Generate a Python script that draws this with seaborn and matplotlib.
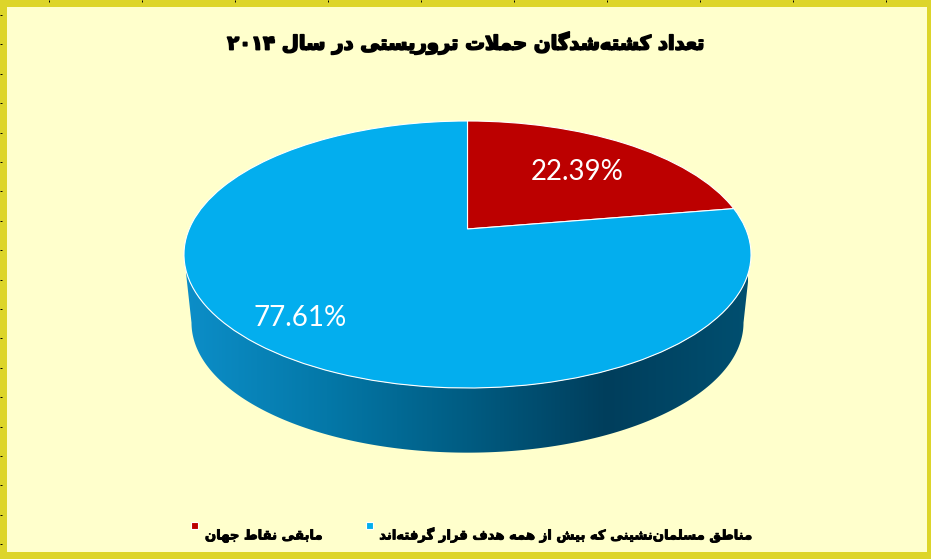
import re

import numpy as np
import seaborn as sns
import matplotlib
matplotlib.use("Agg")
import matplotlib.pyplot as plt
import matplotlib.patheffects as pe
from matplotlib.legend_handler import HandlerPatch
from matplotlib.patches import PathPatch, Rectangle
from matplotlib.path import Path
from matplotlib.transforms import Transform

# data
categories = ["مابقی نقاط جهان", "مناطق مسلمان\u200cنشینی که بیش از همه هدف قرار گرفته\u200cاند"]
values = [22.39, 77.61]
title = "تعداد کشته\u200cشدگان حملات تروریستی در سال ۲۰۱۴"
colors = ["#BC0000", "#03AEEE"]
wall_colors = ["#0C8EC8", "#0478A8", "#005C82", "#003E5C", "#004F70"]
tick_x = np.arange(49, 931, 93)
tick_y = np.arange(15, 559, 29.4)

# isolated, final, initial, medial
FORMS = {
    "ا": "\uFE8D\uFE8E", "د": "\uFEA9\uFEAA", "ر": "\uFEAD\uFEAE", "ز": "\uFEAF\uFEB0", "و": "\uFEED\uFEEE",
    "ب": "\uFE8F\uFE90\uFE91\uFE92", "ت": "\uFE95\uFE96\uFE97\uFE98", "ج": "\uFE9D\uFE9E\uFE9F\uFEA0",
    "ح": "\uFEA1\uFEA2\uFEA3\uFEA4", "س": "\uFEB1\uFEB2\uFEB3\uFEB4", "ش": "\uFEB5\uFEB6\uFEB7\uFEB8",
    "ط": "\uFEC1\uFEC2\uFEC3\uFEC4", "ع": "\uFEC9\uFECA\uFECB\uFECC", "ف": "\uFED1\uFED2\uFED3\uFED4",
    "ق": "\uFED5\uFED6\uFED7\uFED8", "ک": "\uFB8E\uFB8F\uFB90\uFB91", "گ": "\uFB92\uFB93\uFB94\uFB95",
    "ل": "\uFEDD\uFEDE\uFEDF\uFEE0", "م": "\uFEE1\uFEE2\uFEE3\uFEE4", "ن": "\uFEE5\uFEE6\uFEE7\uFEE8",
    "ه": "\uFEE9\uFEEA\uFEEB\uFEEC", "ی": "\uFBFC\uFBFD\uFBFE\uFBFF",
}


def shape(text):
    # matplotlib does no Arabic shaping, so pick the joined forms and reverse
    text = text.replace("لا", "\uFEFB")
    out = []
    for i, ch in enumerate(text):
        if ch == "\uFEFB" or ch in FORMS:
            prev = text[i - 1] if i else " "
            nxt = text[i + 1] if i + 1 < len(text) else " "
            joins_prev = prev in FORMS and len(FORMS[prev]) == 4
            joins_next = ch != "\uFEFB" and len(FORMS[ch]) == 4 and (nxt in FORMS or nxt == "\uFEFB")
            if ch == "\uFEFB":
                out.append("\uFEFC" if joins_prev else "\uFEFB")
            else:
                f = FORMS[ch]
                if joins_prev and joins_next:
                    out.append(f[3])
                elif joins_next:
                    out.append(f[2])
                elif joins_prev:
                    out.append(f[1])
                else:
                    out.append(f[0])
        elif ch != "\u200c":
            out.append(ch)
    visual = "".join(out)[::-1]
    return re.sub("[۰-۹]+", lambda m: m.group()[::-1], visual)


class Tilt(Transform):
    # perspective view of the unit circle, in image pixels
    input_dims = output_dims = 2

    def __init__(self, cy=254.5, scale=1.0):
        super().__init__()
        self.cy = cy
        self.scale = scale

    def transform_non_affine(self, xy):
        x, y = np.asarray(xy, dtype=float).T
        w = 1 + 0.191 * y
        return np.column_stack([467.5 + self.scale * 278.3 * x / w,
                                self.cy - self.scale * (133.5 * y + 25.5) / w])


sns.set_theme(style="white")
fig, ax = plt.subplots(figsize=(9.31, 5.59), dpi=100)
ax.set_position([0, 0, 1, 1])
fig.patch.set_facecolor("#FFFFCC")
ax.set_facecolor("#FFFFCC")

top = Tilt()
wedges, _, pct = ax.pie(values, colors=colors, labels=[shape(c) for c in categories], labeldistance=None,
                        startangle=90, counterclock=False, autopct="%.2f%%", pctdistance=0.66,
                        wedgeprops={"edgecolor": "white", "linewidth": 0.8},
                        textprops={"color": "white", "fontsize": 20, "family": "Lato"})
for w in wedges:
    w.set_transform(top + ax.transData)
for t, k, dx, dy in zip(pct, [1.0, 0.8 / 0.66], [0.005, -0.013], [-0.02, 0.0]):
    x, y = t.get_position()
    t.set_position((x * k + dx, y * k + dy))
    t.set_transform(top + ax.transData)

# side of the pie, between the widest points of the two rims
a = np.radians(np.linspace(11, 169, 200))
front = np.column_stack([np.cos(a), -np.sin(a)])
rim = Tilt(cy=322.7, scale=0.9735)
wall = np.vstack([top.transform(front), rim.transform(front)[::-1]])
wall_patch = PathPatch(Path(np.vstack([wall, wall[:1]]), closed=True), transform=ax.transData, fc="none", ec="none")
ax.add_patch(wall_patch)
cmap = sns.blend_palette(wall_colors, as_cmap=True)
im = ax.imshow(np.linspace(0, 1, 256)[None, :], cmap=cmap, extent=(186, 748, 460, 250), aspect="auto", zorder=0)
im.set_clip_path(wall_patch)

# pie and imshow reset these
ax.set_aspect("auto")
ax.set_xlim(0, 931)
ax.set_ylim(559, 0)
ax.set_frame_on(True)
ax.set_xticks(tick_x)
ax.set_yticks(tick_y)
ax.set_axisbelow(False)
ax.tick_params(direction="in", length=1.6, width=0.7, color="black", labelbottom=False, labelleft=False,
               bottom=False, top=True, left=True)
for side, px in [("top", 14), ("left", 14), ("bottom", 14), ("right", 8)]:
    ax.spines[side].set_visible(True)
    ax.spines[side].set_linewidth(px * 0.72)
    ax.spines[side].set_color("#DDD52A")

ax.text(467.5, 43, shape(title), ha="center", va="center", fontsize=14.1, fontweight="bold",
        family="DejaVu Sans", color="black",
        path_effects=[pe.withStroke(linewidth=1.2, foreground="black")])


def small_square(legend, orig_handle, xdescent, ydescent, width, height, fontsize):
    return Rectangle((width - 5, height * 0.5 + 4.5), 5, 5)


leg = ax.legend(handles=wedges, loc="center", bbox_to_anchor=(471.2 / 931, 1 - 535 / 559), ncol=2,
                frameon=False, fontsize=9.5, columnspacing=2.93, handlelength=0.8, handletextpad=0.5,
                handler_map={wedges[0]: HandlerPatch(patch_func=small_square),
                             wedges[1]: HandlerPatch(patch_func=small_square)})
for t in leg.get_texts():
    t.set_fontweight("bold")
    t.set_family("DejaVu Sans")
    t.set_color("black")
    t.set_path_effects([pe.withStroke(linewidth=0.6, foreground="black")])

fig.savefig("out.png", dpi=100, facecolor=fig.get_facecolor())
